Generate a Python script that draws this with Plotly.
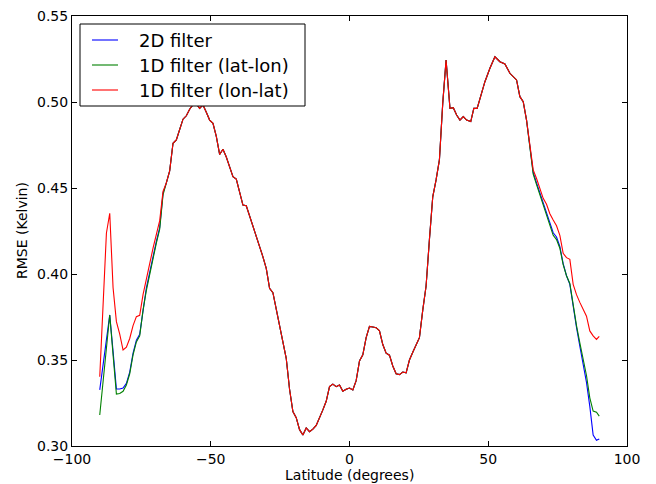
import plotly.graph_objects as go

lat = [-90.0, -87.6, -86.4, -85.2, -84.0, -82.8, -81.6, -80.4, -79.2, -78.0, -76.8, -75.6,
       -74.4, -73.2, -72.0, -70.8, -69.6, -68.4, -67.2, -66.0, -64.8, -63.6, -62.4, -61.2,
       -60.0, -58.8, -57.6, -56.4, -55.2, -54.0, -52.8, -51.6, -50.4, -49.2, -48.0, -46.8,
       -45.6, -44.4, -43.2, -42.0, -40.8, -39.6, -38.4, -37.2, -36.0, -34.8, -33.6, -32.4,
       -31.2, -30.0, -28.8, -27.6, -26.4, -25.2, -24.0, -22.8, -21.6, -20.4, -19.2, -18.0,
       -16.8, -15.6, -14.4, -13.2, -12.0, -10.8, -9.6, -8.4, -7.2, -6.0, -4.8, -3.6,
       -2.4, -1.2, 0.0, 1.2, 2.4, 3.6, 4.8, 6.0, 7.2, 8.4, 9.6, 10.8,
       12.0, 13.2, 14.4, 15.6, 16.8, 18.0, 19.2, 20.4, 21.6, 22.8, 24.0, 25.2,
       26.4, 27.6, 28.8, 30.0, 31.2, 32.4, 33.6, 34.8, 36.2, 37.4, 38.6, 39.8,
       41.0, 42.2, 43.7, 44.8, 46.0, 47.3, 48.8, 50.6, 52.4, 54.2, 56.0, 57.8,
       59.3, 60.2, 61.4, 62.6, 63.8, 65.0, 66.2, 67.4, 68.6, 69.8, 71.0, 72.2,
       73.4, 74.6, 75.8, 77.0, 78.2, 79.4, 80.6, 81.8, 83.0, 84.2, 85.4, 86.6,
       87.8, 89.0, 90.0]

common_mid = [0.4530, 0.4600, 0.4760, 0.4780, 0.4840,
              0.4900, 0.4920, 0.4958, 0.4985, 0.4990, 0.4963, 0.4983, 0.4940, 0.4895, 0.4876, 0.4800, 0.4695,
              0.4725, 0.4680, 0.4620, 0.4566, 0.4552, 0.4470, 0.4401, 0.4397, 0.4340, 0.4270, 0.4217, 0.4169,
              0.4100, 0.4033, 0.3917, 0.3891, 0.3790, 0.3700, 0.3610, 0.3510, 0.3330, 0.3200, 0.3165, 0.3095,
              0.3064, 0.3105, 0.3083, 0.3098, 0.3120, 0.3160, 0.3210, 0.3260, 0.3345, 0.3360, 0.3345, 0.3355,
              0.3318, 0.3330, 0.3337, 0.3326, 0.3380, 0.3495, 0.3530, 0.3630, 0.3695, 0.3692, 0.3688, 0.3670,
              0.3590, 0.3540, 0.3528, 0.3465, 0.3420, 0.3415, 0.3430, 0.3425, 0.3500, 0.3545, 0.3590, 0.3630,
              0.3790, 0.3930, 0.4200, 0.4449, 0.4547, 0.4663, 0.4992, 0.5244, 0.4963, 0.4967, 0.4924, 0.4895,
              0.4915, 0.4895, 0.4886, 0.4963, 0.4963, 0.5031, 0.5118, 0.5196, 0.5263, 0.5234, 0.5221, 0.5167,
              0.5140, 0.5128, 0.5031, 0.5002, 0.4895]

blue_south = [0.3326, 0.3630, 0.3762, 0.3550, 0.3331, 0.3331, 0.3337, 0.3364, 0.3430, 0.3540, 0.3615, 0.3650,
              0.3800, 0.3920, 0.4010, 0.4110, 0.4190, 0.4270, 0.4470]
green_south = [0.3180, 0.3560, 0.3762, 0.3530, 0.3302, 0.3305, 0.3318, 0.3355, 0.3420, 0.3530, 0.3605, 0.3640,
               0.3790, 0.3905, 0.4000, 0.4100, 0.4180, 0.4260, 0.4460]
red_south = [0.3403, 0.4237, 0.4353, 0.3920, 0.3723, 0.3650, 0.3558, 0.3575, 0.3625, 0.3700, 0.3752, 0.3760,
             0.3880, 0.3980, 0.4060, 0.4150, 0.4230, 0.4310, 0.4480]

blue_north = [0.4735, 0.4590, 0.4530, 0.4470, 0.4410, 0.4360, 0.4300, 0.4240, 0.4215, 0.4160, 0.4060, 0.3990,
              0.3940, 0.3800, 0.3690, 0.3580, 0.3480, 0.3370, 0.3230, 0.3064, 0.3033, 0.3041]
green_north = [0.4730, 0.4580, 0.4520, 0.4460, 0.4400, 0.4350, 0.4290, 0.4225, 0.4200, 0.4150, 0.4055, 0.3990,
               0.3945, 0.3810, 0.3700, 0.3600, 0.3510, 0.3410, 0.3280, 0.3203, 0.3196, 0.3174]
red_north = [0.4760, 0.4605, 0.4555, 0.4490, 0.4440, 0.4405, 0.4350, 0.4314, 0.4280, 0.4225, 0.4120, 0.4095,
             0.4085, 0.3940, 0.3880, 0.3835, 0.3790, 0.3755, 0.3669, 0.3640, 0.3620, 0.3638]

blue_vals = blue_south + common_mid + blue_north
green_vals = green_south + common_mid + green_north
red_vals = red_south + common_mid + red_north

series_names = ["2D filter", "1D filter (lat-lon)", "1D filter (lon-lat)"]
series_colors = ["#0000ff", "#008000", "#ff0000"]

x_ticks = [-100, -50, 0, 50, 100]
x_tick_text = ["\u2212100", "\u221250", "0", "50", "100"]
y_ticks = [0.30, 0.35, 0.40, 0.45, 0.50, 0.55]

W, H = 656, 484
ML, MR, MT, MB = 72, 29, 16, 38
PW, PH = W - ML - MR, H - MT - MB


def px(xp):
    return (xp - ML) / PW


def py(yp):
    return (H - MB - yp) / PH


fig = go.Figure()
for name, vals, col in zip(series_names, [blue_vals, green_vals, red_vals], series_colors):
    fig.add_trace(go.Scatter(x=lat, y=vals, mode="lines", name=name,
                             line=dict(color=col, width=1.1), showlegend=False))

axis_common = dict(showgrid=False, zeroline=False, showline=True, linecolor="black",
                   linewidth=1, mirror="allticks", ticks="inside", ticklen=5,
                   tickcolor="black", automargin=False,
                   tickfont=dict(family="DejaVu Sans", size=14, color="black"))

shapes = []
annotations = []
# legend box
shapes.append(dict(type="rect", xref="paper", yref="paper",
                   x0=px(80), x1=px(305), y0=py(106), y1=py(24),
                   line=dict(color="black", width=1), fillcolor="white", layer="above"))
row_y = [40, 65, 90]
for name, col, ry in zip(series_names, series_colors, row_y):
    shapes.append(dict(type="line", xref="paper", yref="paper",
                       x0=px(92), x1=px(118), y0=py(ry), y1=py(ry),
                       line=dict(color=col, width=1.1), layer="above"))
    annotations.append(dict(text=name, xref="paper", yref="paper", x=px(137), y=py(ry),
                            xanchor="left", yanchor="middle", showarrow=False,
                            font=dict(family="DejaVu Sans", size=18, color="black")))

annotations.append(dict(text="Latitude (degrees)", xref="paper", yref="paper",
                        x=px(349), y=py(475), xanchor="center", yanchor="middle",
                        showarrow=False, borderpad=0,
                        font=dict(family="DejaVu Sans", size=14, color="black")))
annotations.append(dict(text="RMSE (Kelvin)", xref="paper", yref="paper",
                        x=px(22), y=py(231), xanchor="center", yanchor="middle", textangle=-90,
                        showarrow=False, font=dict(family="DejaVu Sans", size=14, color="black")))

fig.update_layout(
    width=W, height=H,
    margin=dict(l=ML, r=MR, t=MT, b=MB),
    paper_bgcolor="white", plot_bgcolor="white",
    font=dict(family="DejaVu Sans", color="black"),
    xaxis=dict(range=[-100, 100], tickvals=x_ticks, ticktext=x_tick_text, **axis_common),
    yaxis=dict(range=[0.30, 0.55], tickvals=y_ticks, tickformat=".2f", **axis_common),
    shapes=shapes,
    annotations=annotations,
    showlegend=False,
)

fig.write_html("out.html")
